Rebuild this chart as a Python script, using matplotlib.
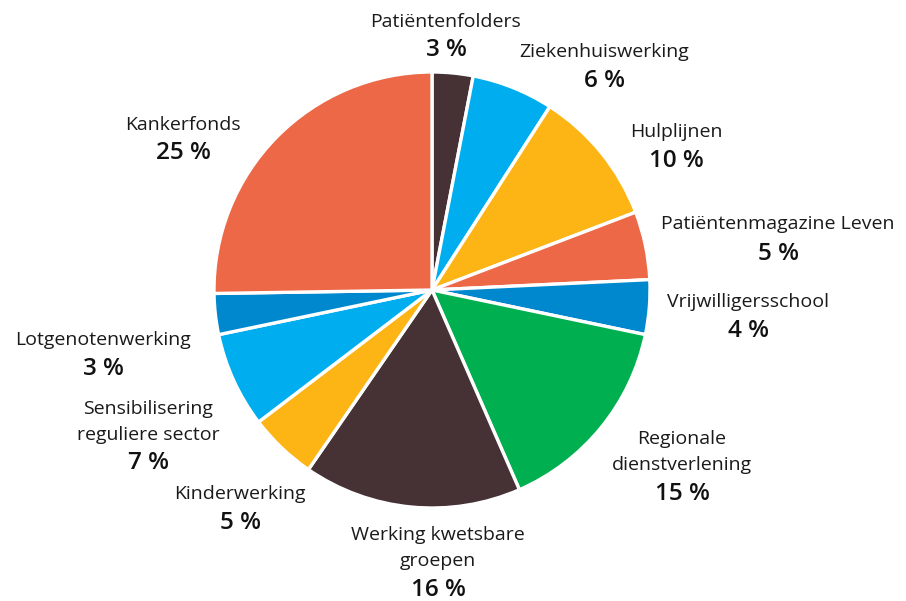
import matplotlib
matplotlib.use('Agg')
import matplotlib.pyplot as plt

# data
labels = ['Patiëntenfolders', 'Ziekenhuiswerking', 'Hulplijnen',
          'Patiëntenmagazine Leven', 'Vrijwilligersschool',
          'Regionale\ndienstverlening', 'Werking kwetsbare\ngroepen',
          'Kinderwerking', 'Sensibilisering\nreguliere sector',
          'Lotgenotenwerking', 'Kankerfonds']
values = [3, 6, 10, 5, 4, 15, 16, 5, 7, 3, 25]
colors = ['#463234', '#00AEEF', '#FDB515', '#EC6847', '#0088CE',
          '#00B050', '#463234', '#FDB515', '#00AEEF', '#0088CE', '#EC6847']

# centre of the first name line and of the percentage (pixels from top-left)
label_pos = [(446, 20, 47), (604, 50, 78), (676, 130, 158), (778, 222, 251),
             (748, 300, 328), (682, 437, 491), (438, 533, 587),
             (240, 492, 520), (148, 407, 460), (103, 338, 366),
             (183, 123, 150)]

W, H = 906, 601
fig = plt.figure(figsize=(W / 100, H / 100), dpi=100)
ax = fig.add_axes([0, 0, 1, 1])

ax.pie(values, colors=colors, startangle=90, counterclock=False,
       center=(432, H - 290), radius=218, frame=True,
       wedgeprops=dict(edgecolor='white', linewidth=2.4))
ax.set_xlim(0, W)
ax.set_ylim(0, H)
ax.set_aspect('equal')
ax.axis('off')

for name, v, (x, y, yp) in zip(labels, values, label_pos):
    for i, line in enumerate(name.split('\n')):
        ax.text(x, H - y - i * 26, line, ha='center', va='center_baseline',
                fontsize=14, family='Open Sans', color='#1a1a1a')
    ax.text(x, H - yp, f'{v} %', ha='center', va='center_baseline',
            fontsize=17.5, fontweight='semibold', family='Open Sans',
            color='#111111')

fig.savefig('out.png', dpi=100)
